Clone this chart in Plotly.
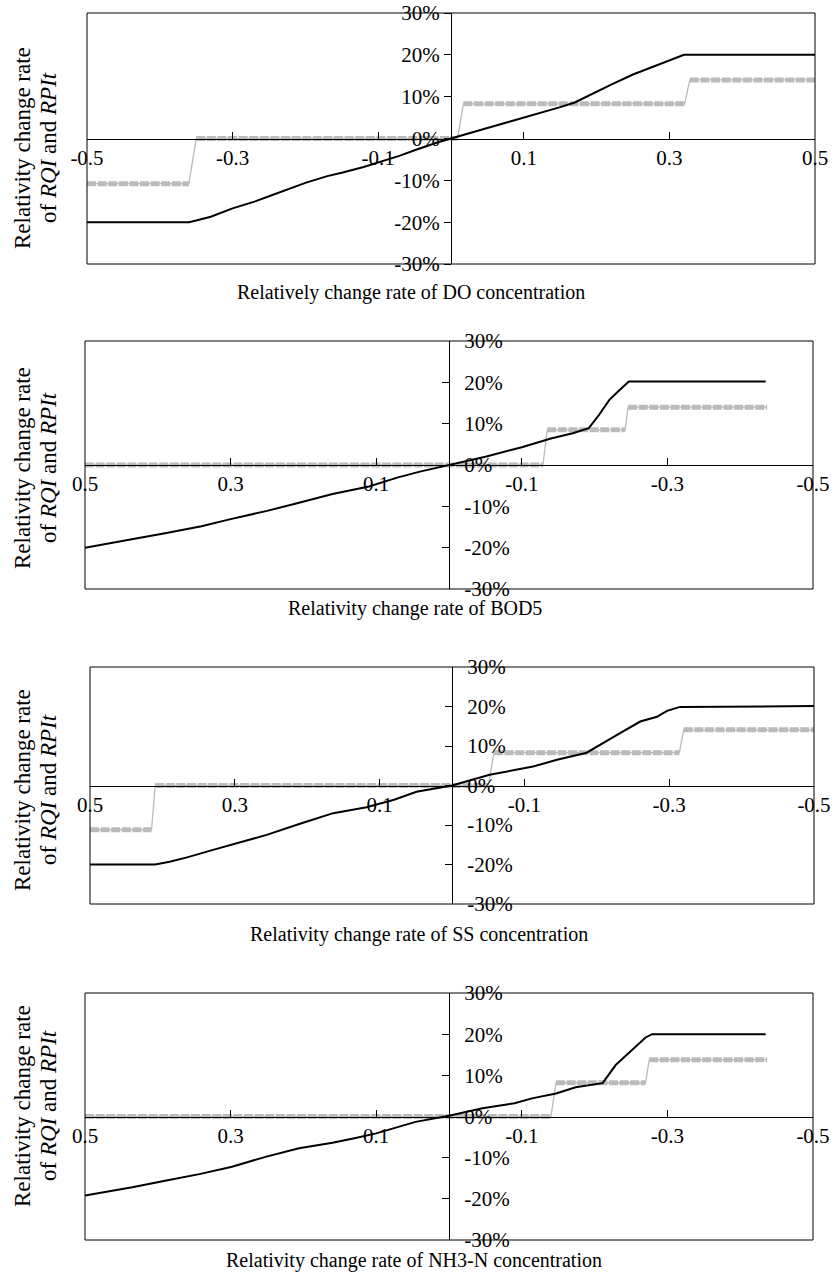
import plotly.graph_objects as go

W, H = 836, 1282
FONT = "Liberation Serif, Times New Roman, serif"

# ---------------- data ----------------
x_titles = [
    "Relatively change rate of DO concentration",
    "Relativity change rate of BOD5",
    "Relativity change rate of SS concentration",
    "Relativity change rate of NH3-N concentration",
]
y_title_line1 = "Relativity change rate"
y_title_line2 = "of <i>RQI</i> and <i>RPIt</i>"

x_tick_vals = [-0.5, -0.3, -0.1, 0.1, 0.3, 0.5]
x_tick_text = ["-0.5", "-0.3", "-0.1", "0.1", "0.3", "0.5"]
y_tick_vals = [-30, -20, -10, 0, 10, 20, 30]
y_tick_text = ["-30%", "-20%", "-10%", "0%", "10%", "20%", "30%"]

# DO
do_x = [-0.5, -0.36, -0.35, -0.33, -0.3, -0.27, -0.25, -0.22, -0.2, -0.17, -0.15, -0.12, -0.1,
        -0.07, -0.05, -0.02, 0.0, 0.03, 0.05, 0.08, 0.1, 0.13, 0.15, 0.17, 0.2, 0.22, 0.25,
        0.27, 0.3, 0.32, 0.5]
do_rqi = [-20.0, -20.0, -19.6, -18.7, -16.7, -15.1, -13.8, -11.8, -10.6, -9.0, -8.2, -6.8, -5.7,
          -4.1, -2.8, -1.0, 0.0, 1.6, 2.5, 4.0, 5.0, 6.4, 7.5, 8.6, 11.2, 12.9, 15.3,
          16.6, 18.7, 20.0, 20.0]
do_rpit_level = [-10.8, 0.0, 8.3, 14.0]
do_rpit_start = [-0.5, -0.35, 0.017, 0.328]
do_rpit_end = [-0.36, 0.009, 0.321, 0.5]

# BOD5
bod_x = [0.5, 0.47, 0.43, 0.39, 0.34, 0.3, 0.25, 0.21, 0.16, 0.11, 0.07, 0.04, 0.0,
         -0.05, -0.1, -0.14, -0.17, -0.192, -0.206, -0.22, -0.234, -0.247, -0.435]
bod_rqi = [-20.0, -19.1, -17.8, -16.5, -14.8, -13.1, -11.1, -9.3, -7.0, -5.2, -3.0, -1.6, 0.0,
           2.0, 4.3, 6.4, 7.7, 8.9, 12.1, 15.7, 18.1, 20.2, 20.2]
bod_rpit_level = [0.0, 8.5, 14.0]
bod_rpit_start = [0.5, -0.135, -0.246]
bod_rpit_end = [-0.129, -0.242, -0.437]

# SS
ss_x = [0.5, 0.41, 0.39, 0.366, 0.33, 0.302, 0.256, 0.21, 0.164, 0.118, 0.08, 0.049, 0.0,
        -0.052, -0.08, -0.112, -0.145, -0.186, -0.228, -0.26, -0.283, -0.297, -0.315, -0.5]
ss_rqi = [-20.0, -20.0, -19.3, -18.2, -16.3, -14.8, -12.5, -9.7, -7.0, -5.5, -3.6, -1.6, 0.0,
          2.7, 3.7, 4.8, 6.5, 8.3, 12.8, 16.2, 17.4, 18.9, 19.9, 20.1]
ss_rpit_level = [-11.2, 0.0, 8.3, 14.1]
ss_rpit_start = [0.5, 0.41, -0.058, -0.32]
ss_rpit_end = [0.415, -0.05, -0.314, -0.5]

# NH3-N
nh_x = [0.5, 0.435, 0.39, 0.343, 0.298, 0.252, 0.206, 0.16, 0.13, 0.1, 0.046, 0.0,
        -0.046, -0.09, -0.114, -0.147, -0.174, -0.211, -0.229, -0.252, -0.27, -0.279, -0.435]
nh_rqi = [-19.2, -17.2, -15.6, -14.0, -12.2, -9.8, -7.7, -6.4, -5.3, -4.1, -1.3, 0.2,
          2.0, 3.2, 4.4, 5.6, 7.1, 8.1, 12.5, 16.2, 19.2, 20.0, 20.0]
nh_rpit_level = [0.0, 8.2, 13.8]
nh_rpit_start = [0.5, -0.147, -0.275]
nh_rpit_end = [-0.14, -0.27, -0.437]

panels = [
    (do_x, do_rqi, do_rpit_level, do_rpit_start, do_rpit_end),
    (bod_x, bod_rqi, bod_rpit_level, bod_rpit_start, bod_rpit_end),
    (ss_x, ss_rqi, ss_rpit_level, ss_rpit_start, ss_rpit_end),
    (nh_x, nh_rqi, nh_rpit_level, nh_rpit_start, nh_rpit_end),
]

# ---------------- layout (pixel boxes in window coordinates) ----------------
boxes = [  # left, right, top, bottom
    (87, 815, 13, 264),
    (85, 813, 341, 589),
    (90, 814, 667, 904),
    (85, 813, 993, 1240),
]
reversed_x = [False, True, True, True]
xtitle_pos = [(411, 292), (415, 608), (419, 934), (414, 1260)]
ytitle_y = [148, 468, 790, 1106]
ytitle_x1, ytitle_x2 = 22, 48


def fx(px):
    return px / W


def fy(py):
    return 1 - py / H


fig = go.Figure()
layout = dict(
    width=W, height=H,
    margin=dict(l=0, r=0, t=0, b=0, pad=0, autoexpand=False),
    paper_bgcolor="white", plot_bgcolor="white",
    showlegend=False,
    font=dict(family=FONT, size=21, color="black"),
    shapes=[], annotations=[],
)

GRAY = "#BBBBBB"

for i, ((xs, rqi, lev, st, en), (l, r, t, b)) in enumerate(zip(panels, boxes)):
    n = i + 1
    xa = "x" if n == 1 else f"x{n}"
    ya = "y" if n == 1 else f"y{n}"
    xkey = "xaxis" if n == 1 else f"xaxis{n}"
    ykey = "yaxis" if n == 1 else f"yaxis{n}"

    thin_x, thin_y, thick_x, thick_y = [], [], [], []
    for lv, s, e in zip(lev, st, en):
        thin_x += [s, e]
        thin_y += [lv, lv]
        thick_x += [s, e, None]
        thick_y += [lv, lv, None]
    fig.add_trace(go.Scatter(x=thin_x, y=thin_y, mode="lines", xaxis=xa, yaxis=ya,
                             line=dict(color=GRAY, width=1.3), hoverinfo="skip"))
    fig.add_trace(go.Scatter(x=thick_x, y=thick_y, mode="lines", xaxis=xa, yaxis=ya,
                             line=dict(color=GRAY, width=5, dash="9px,1.6px"),
                             connectgaps=False, hoverinfo="skip"))
    fig.add_trace(go.Scatter(x=xs, y=rqi, mode="lines", xaxis=xa, yaxis=ya,
                             line=dict(color="black", width=2), hoverinfo="skip"))

    xdom = [fx(l), fx(r)]
    ydom = [fy(b), fy(t)]
    ymid = (ydom[0] + ydom[1]) / 2
    xmid = (xdom[0] + xdom[1]) / 2

    layout[xkey] = dict(
        domain=xdom,
        range=[0.5, -0.5] if reversed_x[i] else [-0.5, 0.5],
        anchor="free", position=ymid, automargin=False,
        showline=True, linecolor="black", linewidth=1,
        showgrid=False, zeroline=False,
        ticks="inside", ticklen=7, tickcolor="black", tickwidth=1,
        tickvals=x_tick_vals, ticktext=x_tick_text,
        ticklabelstandoff=0, ticklabeloverflow="allow",
        tickfont=dict(family=FONT, size=21, color="black"),
    )
    yax = dict(
        domain=ydom,
        range=[-30, 30],
        anchor="free", position=xmid, automargin=False,
        showline=True, linecolor="black", linewidth=1,
        showgrid=False, zeroline=False,
        ticklen=7, tickcolor="black", tickwidth=1,
        tickvals=y_tick_vals, ticktext=y_tick_text,
        ticklabelposition="outside", ticklabeloverflow="allow",
        tickfont=dict(family=FONT, size=21, color="black"),
    )
    if i == 0:
        yax.update(side="left", ticks="outside", ticklabelstandoff=0)
    else:
        yax.update(side="right", ticks="inside", ticklabelstandoff=10)
    layout[ykey] = yax
    layout["shapes"].append(dict(
        type="rect", xref="paper", yref="paper",
        x0=xdom[0], x1=xdom[1], y0=ydom[0], y1=ydom[1],
        line=dict(color="black", width=1), fillcolor="rgba(0,0,0,0)", layer="above",
    ))
    tx, ty = xtitle_pos[i]
    layout["annotations"].append(dict(
        text=x_titles[i], x=fx(tx), y=fy(ty), xref="paper", yref="paper",
        xanchor="center", yanchor="middle", showarrow=False,
        font=dict(family=FONT, size=20, color="black"),
    ))
    for txt, ux in ((y_title_line1, ytitle_x1), (y_title_line2, ytitle_x2)):
        layout["annotations"].append(dict(
            text=txt, x=fx(ux), y=fy(ytitle_y[i]), xref="paper", yref="paper",
            xanchor="center", yanchor="middle", showarrow=False, textangle=-90,
            font=dict(family=FONT, size=23, color="black"),
        ))

fig.update_layout(**layout)
fig.write_html(
    "out.html",
    config={"displayModeBar": False},
    post_script="document.body.style.margin='0';document.body.style.overflow='hidden';",
)
